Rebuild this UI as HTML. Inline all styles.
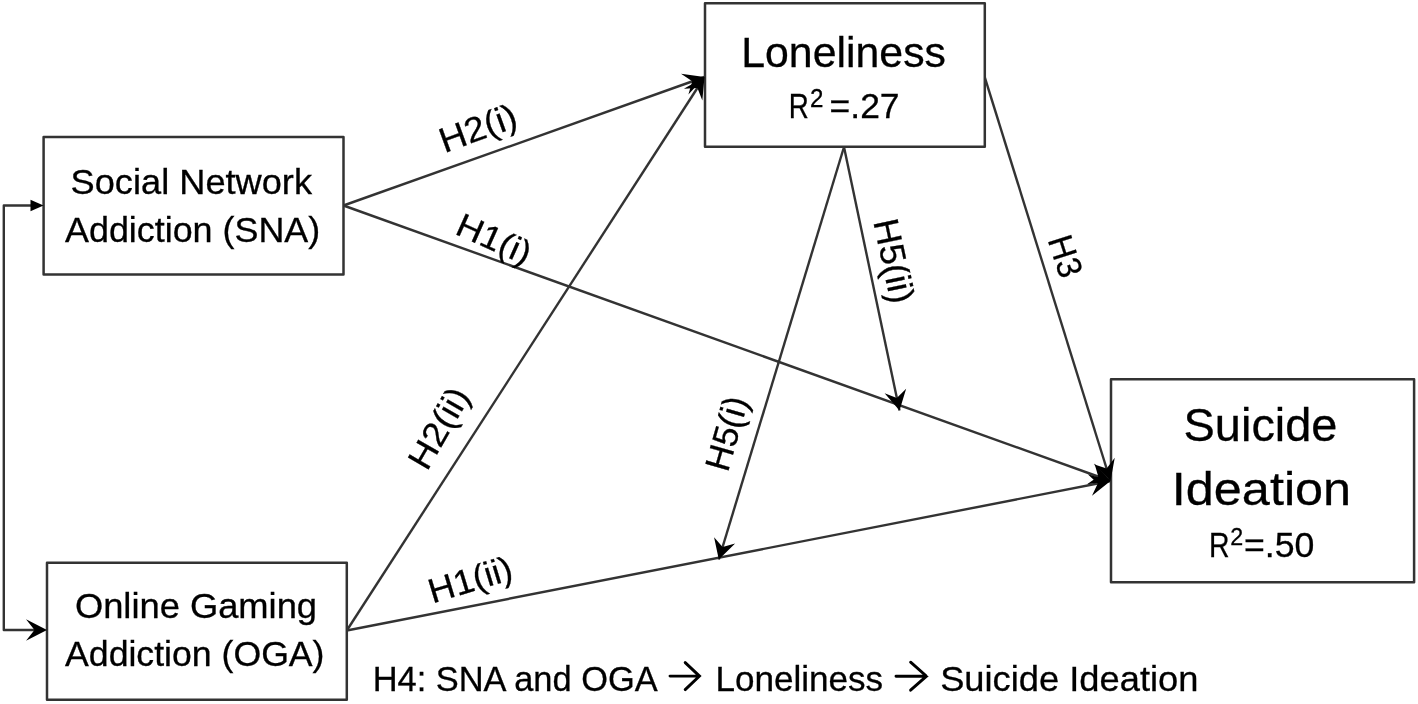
<!DOCTYPE html>
<html><head><meta charset="utf-8"><style>
html,body{margin:0;padding:0;background:#fff;width:1418px;height:704px;overflow:hidden}
svg{display:block;filter:blur(0.6px)}
text{font-family:"Liberation Sans",sans-serif;stroke:#000;stroke-width:0.3px}
</style></head><body>
<svg width="1418" height="704" viewBox="0 0 1418 704"><line x1="343.50" y1="205.50" x2="704.50" y2="77.00" stroke="#333333" stroke-width="2.4"/>
<line x1="343.50" y1="205.50" x2="1110.50" y2="481.00" stroke="#333333" stroke-width="2.4"/>
<line x1="346.80" y1="630.50" x2="704.50" y2="77.00" stroke="#333333" stroke-width="2.4"/>
<line x1="346.80" y1="630.50" x2="1110.50" y2="481.00" stroke="#333333" stroke-width="2.4"/>
<line x1="984.80" y1="77.30" x2="1110.50" y2="481.00" stroke="#333333" stroke-width="2.4"/>
<line x1="844.00" y1="147.00" x2="899.50" y2="410.60" stroke="#333333" stroke-width="2.4"/>
<line x1="844.00" y1="147.00" x2="718.80" y2="559.50" stroke="#333333" stroke-width="2.4"/>
<path d="M 32 205.5 L 3.8 205.5 L 3.8 630 L 36 630" fill="none" stroke="#333333" stroke-width="2.4" stroke-linejoin="round"/>
<rect x="43.60" y="137.10" width="299.90" height="137.30" fill="#fff" stroke="#333333" stroke-width="2.5" stroke-linejoin="round"/>
<rect x="47.00" y="562.70" width="299.80" height="137.10" fill="#fff" stroke="#333333" stroke-width="2.5" stroke-linejoin="round"/>
<rect x="705.00" y="3.20" width="279.80" height="143.60" fill="#fff" stroke="#333333" stroke-width="2.5" stroke-linejoin="round"/>
<rect x="1111.00" y="379.20" width="303.10" height="203.00" fill="#fff" stroke="#333333" stroke-width="2.5" stroke-linejoin="round"/>
<polygon points="704.50,77.00 688.40,94.41 692.25,81.36 681.03,73.68" fill="#000"/>
<polygon points="704.50,77.00 702.34,100.61 697.44,87.92 683.86,88.67" fill="#000"/>
<polygon points="1110.50,481.00 1087.02,484.25 1098.27,476.61 1094.45,463.55" fill="#000"/>
<polygon points="1110.50,481.00 1092.00,495.83 1097.74,483.50 1087.78,474.24" fill="#000"/>
<polygon points="1110.50,481.00 1093.75,464.22 1106.64,468.59 1114.76,457.68" fill="#000"/>
<polygon points="899.50,410.60 884.62,393.30 896.82,397.88 906.14,388.76" fill="#000"/>
<polygon points="718.80,559.50 714.08,537.17 722.58,547.06 735.13,543.56" fill="#000"/>
<polygon points="43.50,205.50 30.50,211.30 30.50,199.70" fill="#000"/>
<polygon points="47.00,630.00 26.00,640.70 34.50,630.00 26.00,619.30" fill="#000"/>
<text transform="translate(72.20,194.30) scale(1.0516,1)" x="-1.56" y="0" font-size="34.45" fill="#000">Social Network</text>
<text transform="translate(65.10,242.10) scale(1.0414,1)" x="-0.07" y="0" font-size="34.45" fill="#000">Addiction (SNA)</text>
<text transform="translate(76.60,617.80) scale(1.0588,1)" x="-1.62" y="0" font-size="34.30" fill="#000">Online Gaming</text>
<text transform="translate(65.10,666.40) scale(1.0394,1)" x="-0.07" y="0" font-size="34.30" fill="#000">Addiction (OGA)</text>
<text transform="translate(744.70,66.90) scale(0.9892,1)" x="-3.55" y="0" font-size="43.31" fill="#000">Loneliness</text>
<text transform="translate(791.00,118.00) scale(0.7740,1)" x="-2.95" y="0" font-size="35.90" fill="#000">R</text>
<text transform="translate(831.30,118.00) scale(0.9879,1)" x="-1.75" y="0" font-size="35.90" fill="#000">=.27</text>
<text transform="translate(1185.70,441.30) scale(1.0090,1)" x="-2.11" y="0" font-size="46.51" fill="#000">Suicide</text>
<text transform="translate(1176.50,504.70) scale(1.0767,1)" x="-4.32" y="0" font-size="46.80" fill="#000">Ideation</text>
<text transform="translate(1211.40,556.80) scale(0.7993,1)" x="-2.92" y="0" font-size="35.61" fill="#000">R</text>
<text transform="translate(1245.70,556.80) scale(1.0102,1)" x="-1.72" y="0" font-size="35.32" fill="#000">=.50</text>
<text transform="translate(811.20,107.00) scale(0.9333,1)" x="-1.30" y="0" font-size="25.87" fill="#000">2</text>
<text transform="translate(1231.30,545.40) scale(0.9472,1)" x="-1.24" y="0" font-size="24.56" fill="#000">2</text>
<text transform="translate(375.50,690.80) scale(0.9744,1)" x="-2.90" y="0" font-size="35.32" fill="#000">H4: SNA and OGA</text>
<text transform="translate(718.30,690.80) scale(0.9933,1)" x="-2.90" y="0" font-size="35.32" fill="#000">Loneliness</text>
<text transform="translate(941.80,690.80) scale(1.0281,1)" x="-1.60" y="0" font-size="35.32" fill="#000">Suicide Ideation</text>
<path d="M 670.00 676.10 H 699.20 M 685.20 662.60 L 699.50 676.10 L 685.20 689.60" fill="none" stroke="#000" stroke-width="2.9" stroke-linecap="round" stroke-linejoin="miter"/>
<path d="M 896.00 676.20 H 926.20 M 910.60 662.20 L 926.50 676.20 L 910.60 690.20" fill="none" stroke="#000" stroke-width="2.9" stroke-linecap="round" stroke-linejoin="miter"/>
<text transform="translate(447.30,152.20) rotate(-20.00) scale(1.0500,1)" x="-2.89" y="0" font-size="35.18" fill="#000">H2(i)</text>
<text transform="translate(456.50,234.70) rotate(24.00) scale(1.0800,1)" x="-2.74" y="0" font-size="33.43" fill="#000">H1(i)</text>
<text transform="translate(428.40,469.50) rotate(-60.00) scale(1.0700,1)" x="-2.83" y="0" font-size="34.45" fill="#000">H2(ii)</text>
<text transform="translate(435.40,602.70) rotate(-16.90) scale(1.0400,1)" x="-2.84" y="0" font-size="34.59" fill="#000">H1(ii)</text>
<text transform="translate(728.50,470.30) rotate(-74.00) scale(1.0000,1)" x="-2.86" y="0" font-size="34.88" fill="#000">H5(i)</text>
<text transform="translate(873.90,224.70) rotate(78.00) scale(1.0100,1)" x="-2.90" y="0" font-size="35.32" fill="#000">H5(ii)</text>
<text transform="translate(1048.40,242.30) rotate(72.00) scale(0.9500,1)" x="-2.85" y="0" font-size="34.74" fill="#000">H3</text></svg>
</body></html>
